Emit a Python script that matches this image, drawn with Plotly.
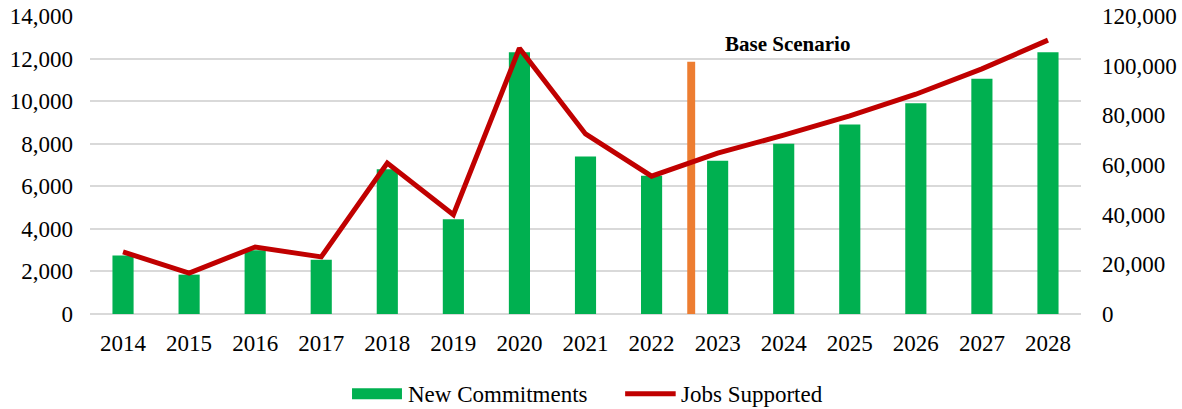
import plotly.graph_objects as go

years = [2014, 2015, 2016, 2017, 2018, 2019, 2020, 2021, 2022, 2023, 2024, 2025, 2026, 2027, 2028]
new_commitments = [2750, 1850, 3000, 2550, 6800, 4450, 12300, 7400, 6500, 7200, 8000, 8900, 9900, 11050, 12300]
jobs_supported = [25000, 16500, 27000, 23000, 60800, 40000, 107000, 72500, 55500, 64800, 72000, 79800, 88500, 98700, 110300]

# orange divider marking the start of the base scenario
scenario_x = [2022.6]
scenario_height = [11850]

GREEN = "#00B050"
RED = "#C00000"
ORANGE = "#ED7D31"
GRID = "#D9D9D9"
FONT = "Liberation Serif, Times New Roman, serif"

fig = go.Figure()

fig.add_trace(go.Bar(
    x=years, y=new_commitments, name="New Commitments",
    marker=dict(color=GREEN, line=dict(width=0)), width=0.32, yaxis="y",
))
fig.add_trace(go.Bar(
    x=scenario_x, y=scenario_height, name="Base Scenario",
    marker=dict(color=ORANGE, line=dict(width=0)), width=0.12, yaxis="y",
))
fig.add_trace(go.Scatter(
    x=years, y=jobs_supported, name="Jobs Supported", mode="lines",
    line=dict(color=RED, width=5), yaxis="y2",
))

fig.update_layout(
    width=1182, height=409,
    margin=dict(l=90, r=101, t=16, b=95, autoexpand=False),
    plot_bgcolor="white", paper_bgcolor="white",
    font=dict(family=FONT, size=23, color="black"),
    showlegend=False,
    barmode="overlay",
    xaxis=dict(
        range=[2013.5, 2028.5], tickvals=years, ticktext=[str(y) for y in years],
        showgrid=False, zeroline=False, showline=False, ticks="",
        ticklabelstandoff=13, automargin=False,
    ),
    yaxis=dict(
        range=[0, 14000], dtick=2000, tickformat=",d",
        showgrid=True, gridcolor=GRID, gridwidth=1.5,
        zeroline=True, zerolinecolor=GRID, zerolinewidth=1.5,
        showline=False, ticks="", ticklabelstandoff=16, automargin=False,
    ),
    yaxis2=dict(
        range=[0, 120000], dtick=20000, tickformat=",d",
        overlaying="y", side="right", showgrid=False, zeroline=False,
        showline=False, ticks="", ticklabelstandoff=20, automargin=False,
    ),
)

fig.add_annotation(
    x=2024.05, y=0.906, xref="x", yref="paper", text="<b>Base Scenario</b>",
    showarrow=False, font=dict(size=21, family=FONT, color="black"),
    xanchor="center", yanchor="middle",
)

# custom legend below the plot
fig.add_shape(type="rect", xref="paper", yref="paper",
              x0=0.2644, x1=0.3148, y0=-0.2862, y1=-0.2493,
              fillcolor=GREEN, line=dict(width=0))
fig.add_annotation(x=0.3189, y=-0.2685, xref="paper", yref="paper",
                   text="New Commitments", showarrow=False,
                   xanchor="left", yanchor="middle")
fig.add_shape(type="line", xref="paper", yref="paper",
              x0=0.5400, x1=0.5910, y0=-0.2674, y1=-0.2674,
              line=dict(color=RED, width=5))
fig.add_annotation(x=0.5943, y=-0.2685, xref="paper", yref="paper",
                   text="Jobs Supported", showarrow=False,
                   xanchor="left", yanchor="middle")

# drop the default page margin so the figure fills the window
fig.write_html(
    "out.html",
    config={"displayModeBar": False},
    post_script="document.body.style.margin='0';document.body.style.overflow='hidden';",
)
